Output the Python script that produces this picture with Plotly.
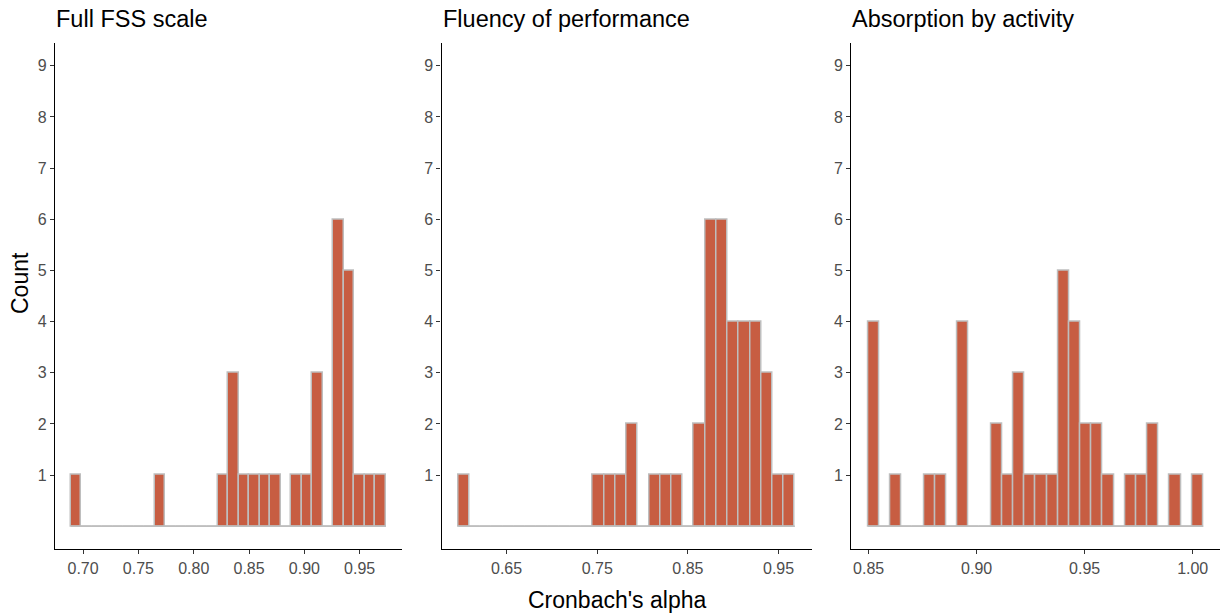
import numpy as np
import plotly.graph_objects as go

# ---------------- data ----------------
panel_titles = ["Full FSS scale", "Fluency of performance", "Absorption by activity"]

# 30 bins per panel; first / last bin centres and counts
fss_first_center, fss_last_center = 0.6936, 0.9690
fss_counts = [1, 0, 0, 0, 0, 0, 0, 0, 1, 0, 0, 0, 0, 0, 1,
              3, 1, 1, 1, 1, 0, 1, 1, 3, 0, 6, 5, 1, 1, 1]

flu_first_center, flu_last_center = 0.6030, 0.9618
flu_counts = [1, 0, 0, 0, 0, 0, 0, 0, 0, 0, 0, 0, 1, 1, 1,
              2, 0, 1, 1, 1, 0, 2, 6, 6, 4, 4, 4, 3, 1, 1]

abs_first_center, abs_last_center = 0.8523, 1.0023
abs_counts = [4, 0, 1, 0, 0, 1, 1, 0, 4, 0, 0, 2, 1, 3, 1,
              1, 1, 5, 4, 2, 2, 1, 0, 1, 1, 2, 0, 1, 0, 1]

fss_xticks = [0.70, 0.75, 0.80, 0.85, 0.90, 0.95]
flu_xticks = [0.65, 0.75, 0.85, 0.95]
abs_xticks = [0.85, 0.90, 0.95, 1.00]

y_ticks = [1, 2, 3, 4, 5, 6, 7, 8, 9]
y_axis_title = "Count"
x_axis_title = "Cronbach's alpha"

# ---------------- styling ----------------
W, H = 1220, 615
FILL = "#C75D42"
EDGE = "#BEBEBE"
FONT = "Liberation Sans, Arial, sans-serif"

panels = [
    (fss_first_center, fss_last_center, fss_counts, fss_xticks),
    (flu_first_center, flu_last_center, flu_counts, flu_xticks),
    (abs_first_center, abs_last_center, abs_counts, abs_xticks),
]
x_domains = [[55 / W, 401.7 / W], [441.5 / W, 811.7 / W], [851.3 / W, 1.0]]
y_domain = [1 - 549.3 / H, 1 - 42.7 / H]

fig = go.Figure()
layout = dict(
    width=W, height=H,
    margin=dict(l=0, r=0, t=0, b=0),
    paper_bgcolor="white", plot_bgcolor="white",
    showlegend=False,
    font=dict(family=FONT, color="#4D4D4D"),
    bargap=0,
)

annotations = []
for i, (c0, c1, counts, xt) in enumerate(panels):
    n = len(counts)
    centers = np.linspace(c0, c1, n)
    bw = (c1 - c0) / (n - 1)
    left, right = c0 - bw / 2, c1 + bw / 2
    span = right - left
    xr = [left - 0.05 * span, right + 0.05 * span]
    sfx = "" if i == 0 else str(i + 1)
    xa, ya = "x" + sfx, "y" + sfx

    fig.add_trace(go.Scatter(
        x=[left, right], y=[0, 0], mode="lines",
        line=dict(color=EDGE, width=1.5), hoverinfo="skip",
        xaxis=xa, yaxis=ya))
    fig.add_trace(go.Bar(
        x=centers, y=counts, width=[bw] * n,
        marker=dict(color=FILL, line=dict(color=EDGE, width=1.5)),
        xaxis=xa, yaxis=ya))

    layout["xaxis" + sfx] = dict(
        domain=x_domains[i], anchor=ya, range=xr,
        tickvals=xt, ticktext=[f"{v:.2f}" for v in xt],
        showgrid=False, zeroline=False,
        showline=True, linecolor="black", linewidth=1.3,
        ticks="outside", ticklen=4, tickcolor="#333333", tickwidth=1.1,
        tickfont=dict(size=16, color="#4D4D4D", family=FONT),
        fixedrange=True,
    )
    layout["yaxis" + sfx] = dict(
        domain=y_domain, anchor=xa, range=[-0.45, 9.45],
        tickvals=y_ticks,
        showgrid=False, zeroline=False,
        showline=True, linecolor="black", linewidth=1.3,
        ticks="outside", ticklen=4, tickcolor="#333333", tickwidth=1.1,
        tickfont=dict(size=16, color="#4D4D4D", family=FONT),
        fixedrange=True,
    )
    annotations.append(dict(
        text=panel_titles[i], xref="paper", yref="paper",
        x=x_domains[i][0] - 1 / W, y=1 - 19 / H, xanchor="left", yanchor="middle",
        showarrow=False, font=dict(size=23.5, color="black", family=FONT)))

annotations.append(dict(
    text=x_axis_title, xref="paper", yref="paper",
    x=616.5 / W, y=1 - 600 / H, xanchor="center", yanchor="middle",
    showarrow=False, font=dict(size=23, color="black", family=FONT)))
annotations.append(dict(
    text=y_axis_title, xref="paper", yref="paper",
    x=20 / W, y=1 - 283 / H, xanchor="center", yanchor="middle",
    textangle=-90,
    showarrow=False, font=dict(size=23, color="black", family=FONT)))

layout["annotations"] = annotations
fig.update_layout(**layout)
fig.write_html("out.html")
